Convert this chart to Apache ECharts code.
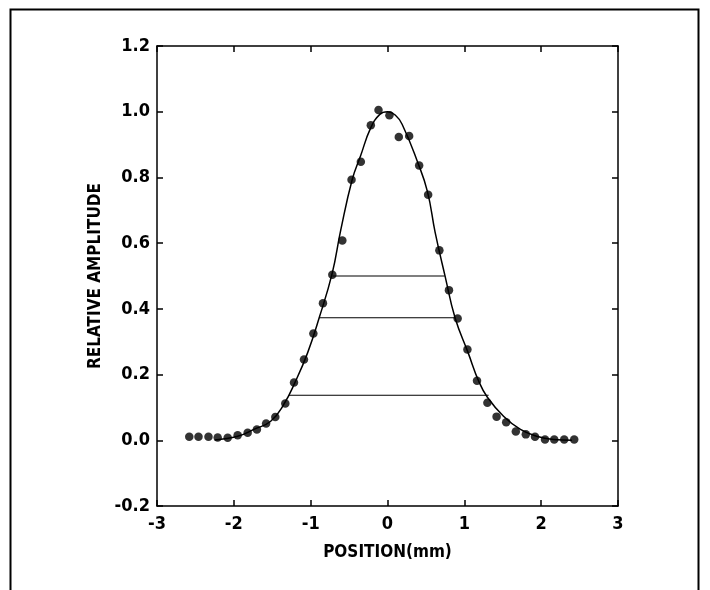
<!DOCTYPE html>
<html>
<head>
<meta charset="utf-8">
<script src="https://cdn.jsdelivr.net/npm/echarts@6/dist/echarts.min.js"></script>
<style>html,body{margin:0;padding:0;background:#fff}#c{width:710px;height:590px}</style>
</head>
<body>
<div id="c"></div>
<script>
// Measured data points (position mm, relative amplitude)
var dotX = [-2.58, -2.46, -2.33, -2.21, -2.08, -1.95, -1.82, -1.70, -1.58, -1.46, -1.33, -1.217, -1.087, -0.965, -0.84, -0.718, -0.588, -0.468, -0.347, -0.217, -0.117, 0.025, 0.147, 0.282, 0.412, 0.529, 0.675, 0.80, 0.913, 1.04, 1.165, 1.30, 1.42, 1.545, 1.67, 1.80, 1.92, 2.05, 2.17, 2.30, 2.43];
var dotY = [0.011, 0.011, 0.011, 0.0085, 0.0076, 0.015, 0.023, 0.033, 0.051, 0.071, 0.112, 0.176, 0.246, 0.325, 0.417, 0.504, 0.608, 0.793, 0.848, 0.959, 1.005, 0.989, 0.923, 0.926, 0.836, 0.747, 0.578, 0.457, 0.371, 0.276, 0.181, 0.114, 0.072, 0.055, 0.027, 0.018, 0.011, 0.0025, 0.0025, 0.0025, 0.0025];
// Fitted curve
var curveX = [-2.25, -1.95, -1.74, -1.52, -1.35, -1.2, -1.04, -0.89, -0.72, -0.61, -0.46, -0.35, -0.22, -0.1, 0.0, 0.1, 0.19, 0.39, 0.52, 0.62, 0.75, 0.88, 1.05, 1.19, 1.30, 1.51, 1.73, 1.94, 2.16, 2.4];
var curveY = [0.001, 0.012, 0.033, 0.058, 0.109, 0.178, 0.266, 0.372, 0.508, 0.638, 0.793, 0.866, 0.950, 0.992, 1.0, 0.99, 0.962, 0.848, 0.757, 0.633, 0.499, 0.372, 0.266, 0.178, 0.131, 0.073, 0.033, 0.0125, 0.0025, 0.0];
// Width markers: level, left end, right end
var levelY = [0.50, 0.373, 0.137];
var levelLeft = [-0.718, -0.892, -1.282];
var levelRight = [0.745, 0.883, 1.316];
// Axes
var xTicks = [-3, -2, -1, 0, 1, 2, 3];
var yTicks = [-0.2, 0.0, 0.2, 0.4, 0.6, 0.8, 1.0, 1.2];
var xTitle = 'POSITION(mm)';
var yTitle = 'RELATIVE AMPLITUDE';

var FONT = "'Liberation Sans Narrow', 'DejaVu Sans Condensed', 'Arial Narrow', sans-serif";
var chart = echarts.init(document.getElementById('c'), null, {renderer: 'canvas'});

function zip(a, b) { return a.map(function (v, i) { return [v, b[i]]; }); }

var series = [
  {type: 'line', data: zip(curveX, curveY), smooth: 0.45, showSymbol: false, symbol: 'none',
   lineStyle: {color: '#000', width: 1.5}, z: 3, silent: true},
  {type: 'scatter', data: zip(dotX, dotY), symbol: 'circle', symbolSize: 8.5,
   itemStyle: {color: '#000'}, z: 4, silent: true}
];
levelY.forEach(function (y, i) {
  series.push({type: 'line', data: [[levelLeft[i], y], [levelRight[i], y]], showSymbol: false, symbol: 'none',
    lineStyle: {color: '#000', width: 1.2}, z: 2, silent: true});
});

var axisLine = {show: true, onZero: false, lineStyle: {color: '#000', width: 1.5}};
var axisTick = {show: true, inside: true, length: 6, lineStyle: {color: '#000', width: 1.5}};

chart.setOption({
  animation: false,
  backgroundColor: '#fff',
  grid: {left: 157, right: 92, top: 46, bottom: 84, containLabel: false},
  graphic: [{type: 'rect', left: 8, top: 7, shape: {width: 688, height: 620},
    style: {fill: 'none', stroke: '#000', lineWidth: 2}, z: 0, silent: true}],
  xAxis: [
    {type: 'value', min: xTicks[0], max: xTicks[xTicks.length - 1], interval: 1, position: 'bottom',
     axisLine: axisLine, axisTick: axisTick, splitLine: {show: false},
     axisLabel: {color: '#000', fontFamily: FONT, fontWeight: 'bold', fontSize: 18, margin: 9},
     name: xTitle, nameLocation: 'middle', nameGap: 38,
     nameTextStyle: {color: '#000', fontFamily: FONT, fontWeight: 'bold', fontSize: 17}},
    {type: 'value', min: xTicks[0], max: xTicks[xTicks.length - 1], interval: 1, position: 'top',
     axisLine: axisLine, axisTick: axisTick, splitLine: {show: false}, axisLabel: {show: false}}
  ],
  yAxis: [
    {type: 'value', min: yTicks[0], max: yTicks[yTicks.length - 1], interval: 0.2, position: 'left',
     axisLine: axisLine, axisTick: axisTick, splitLine: {show: false},
     axisLabel: {color: '#000', fontFamily: FONT, fontWeight: 'bold', fontSize: 18, margin: 7,
       formatter: function (v) { return (Math.round(v * 10) / 10).toFixed(1); }},
     name: yTitle, nameLocation: 'middle', nameGap: 53, nameRotate: 90,
     nameTextStyle: {color: '#000', fontFamily: FONT, fontWeight: 'bold', fontSize: 17}},
    {type: 'value', min: yTicks[0], max: yTicks[yTicks.length - 1], interval: 0.2, position: 'right',
     axisLine: axisLine, axisTick: axisTick, splitLine: {show: false}, axisLabel: {show: false}}
  ],
  series: series
});
</script>
</body>
</html>
